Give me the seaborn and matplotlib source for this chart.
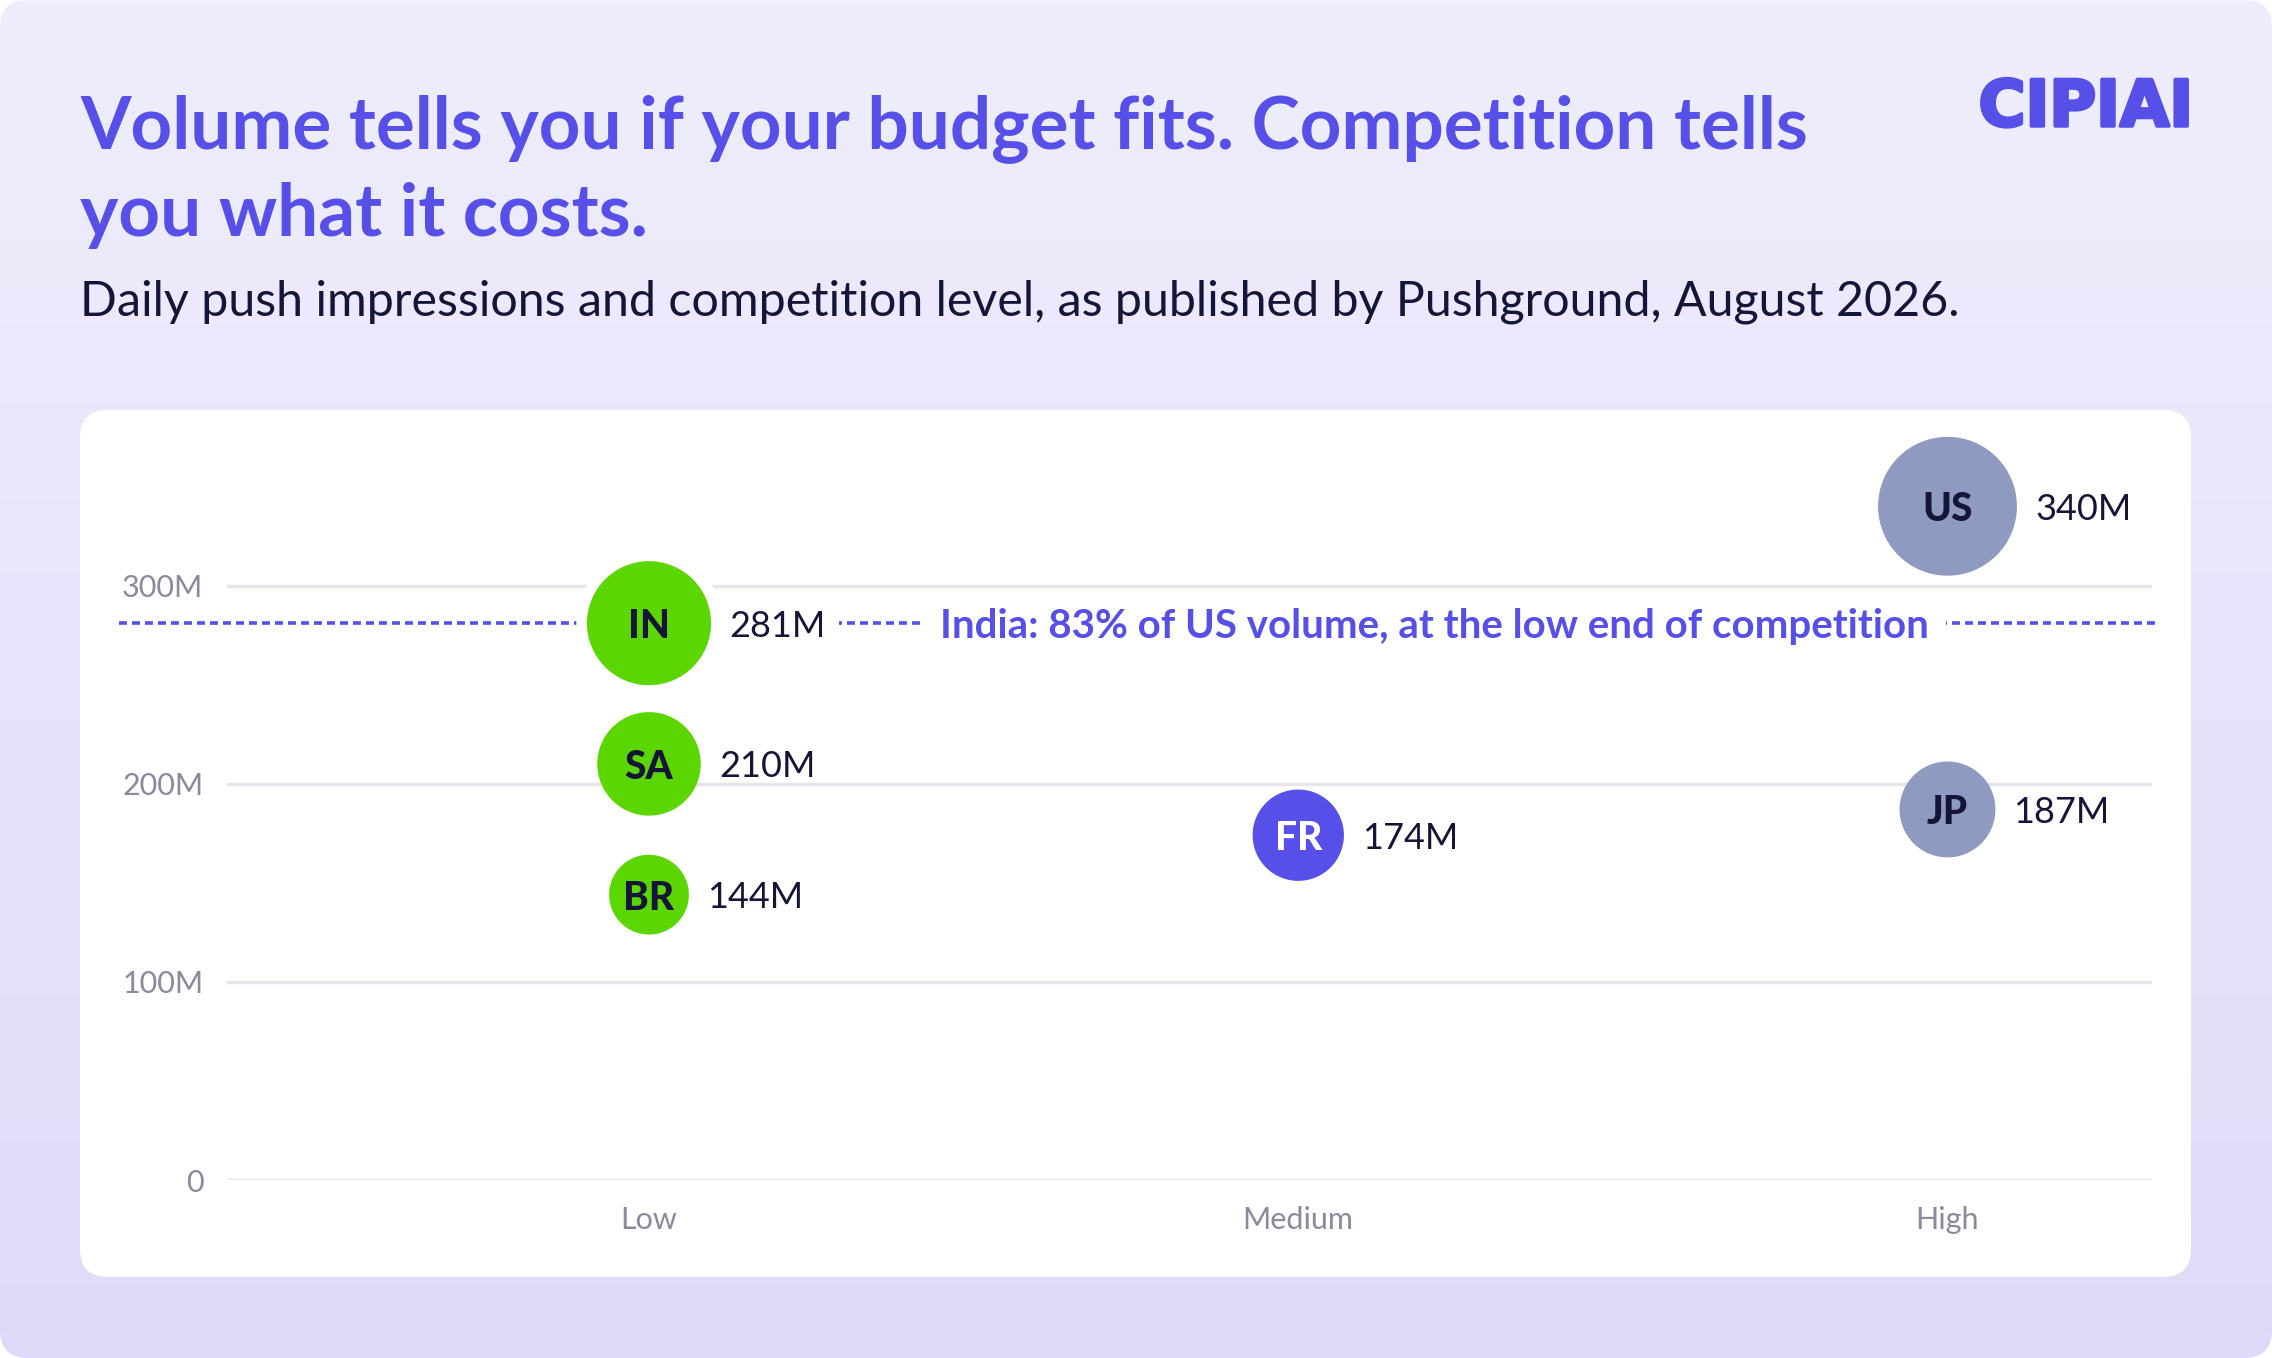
import numpy as np
import pandas as pd
import matplotlib
matplotlib.use("Agg")
import matplotlib.pyplot as plt
import matplotlib.patheffects as pe
from matplotlib.patches import FancyBboxPatch
from matplotlib.ticker import FuncFormatter
import seaborn as sns

# data
countries = ["US", "IN", "SA", "BR", "FR", "JP"]
competition = ["High", "Low", "Low", "Low", "Medium", "High"]
volume_m = [340, 281, 210, 144, 174, 187]
levels = ["Low", "Medium", "High"]
y_ticks = [0, 100, 200, 300]
highlight = "IN"
reference = "US"

title_1 = "Volume tells you if your budget fits. Competition tells"
title_2 = "you what it costs."
subtitle = "Daily push impressions and competition level, as published by Pushground, August 2026."
note = "India: 83% of US volume, at the low end of competition"

INDIGO = "#5650E8"
NAVY = "#15153A"
GREY = "#8A8A9E"
level_colors = {"Low": "#5CD600", "Medium": "#5650E8", "High": "#8F9AC1"}
text_colors = {"Low": NAVY, "Medium": "white", "High": NAVY}

W, H = 2272, 1358

sns.set_theme(style="white")
plt.rcParams["font.family"] = ["Lato", "DejaVu Sans"]

df = pd.DataFrame({
    "country": countries,
    "competition": pd.Categorical(competition, categories=levels, ordered=True),
    "volume": volume_m,
})

fig = plt.figure(figsize=(W / 100, H / 100), dpi=100)
fig.patch.set_facecolor("white")

# background with vertical gradient, pixel coordinates
bg = fig.add_axes([0, 0, 1, 1], zorder=0)
bg.set_xlim(0, W)
bg.set_ylim(0, H)
bg.axis("off")
grad = np.linspace(0, 1, 256).reshape(-1, 1)
top_c = np.array([0xEF, 0xEE, 0xFC]) / 255
bot_c = np.array([0xDE, 0xDB, 0xFA]) / 255
img = (top_c * (1 - grad[:, :, None]) + bot_c * grad[:, :, None])
im = bg.imshow(img, extent=(0, W, 0, H), aspect="auto", origin="upper", zorder=0)
frame = FancyBboxPatch((0, 0), W, H, boxstyle="round,pad=0,rounding_size=28",
                       transform=bg.transData, facecolor="none", edgecolor="none")
bg.add_patch(frame)
im.set_clip_path(frame)

card = FancyBboxPatch((80, 81), 2111, 867, boxstyle="round,pad=0,rounding_size=28",
                      facecolor="white", edgecolor="none", zorder=1)
bg.add_patch(card)

bg.text(80, H - 148, title_1, fontsize=52.4, fontweight="bold", color=INDIGO, va="baseline", zorder=2)
bg.text(80, H - 236, title_2, fontsize=52.4, fontweight="bold", color=INDIGO, va="baseline", zorder=2)
bg.text(80, H - 316, subtitle, fontsize=34.8, color=NAVY, va="baseline", zorder=2)
bg.text(2193, H - 108, "CIPIAI", fontsize=46, fontweight="bold", family="DejaVu Sans",
        color=INDIGO, ha="right", va="center", zorder=2,
        path_effects=[pe.withStroke(linewidth=2.5, foreground=INDIGO)])

# main chart
ax = fig.add_axes([227 / W, 178 / H, 1925 / W, 753 / H], zorder=2)
ax.set_facecolor("none")

sns.scatterplot(data=df, x="competition", y="volume", hue="competition",
                palette=level_colors, size="volume", sizes=(3300, 10000),
                linewidth=0, legend=False, ax=ax, zorder=4)
pts = ax.collections[-1]
pts.set_clip_on(False)
sizes = pts.get_sizes()

ax.set_xlim(-0.65, 2.315)
ax.set_ylim(0, 380)
ax.set_yticks(y_ticks)
ax.yaxis.set_major_formatter(FuncFormatter(lambda v, _: "0" if v == 0 else f"{int(v)}M"))
ax.grid(axis="y", color="#E6E6EA", lw=2.5)
ax.grid(axis="x", visible=False)
ax.set_axisbelow(True)
for s in ax.spines.values():
    s.set_visible(False)
ax.tick_params(axis="both", length=0, labelsize=22, labelcolor=GREY)
ax.tick_params(axis="y", pad=17)
ax.tick_params(axis="x", pad=19)
ax.set_xlabel("")
ax.set_ylabel("")

xpos = {lvl: i for i, lvl in enumerate(levels)}
hl = df[df.country == highlight].iloc[0]
ref = df[df.country == reference].iloc[0]

# dashed reference line at India's volume
ax.hlines(hl.volume, -0.817, 2.32, colors=INDIGO, lw=2.6,
          linestyles=(0, (2.2, 1.4)), clip_on=False, zorder=2)
hl_size = sizes[df.index[df.country == highlight][0]]
ax.scatter([xpos[hl.competition]], [hl.volume], s=(np.sqrt(hl_size) + 16) ** 2,
           color="white", linewidth=0, zorder=3, clip_on=False)

for i, row in df.iterrows():
    x = xpos[row.competition]
    r = np.sqrt(sizes[i]) / 2
    ax.text(x, row.volume, row.country, ha="center", va="center_baseline",
            fontsize=28, fontweight="black", color=text_colors[row.competition], zorder=5)
    box = dict(facecolor="white", edgecolor="none", pad=10) if row.country == highlight else None
    ax.annotate(f"{row.volume}M", (x, row.volume), xytext=(r + 13, 0),
                textcoords="offset points", ha="left", va="center_baseline",
                fontsize=26, color=NAVY, bbox=box, zorder=5)

pct = round(100 * hl.volume / ref.volume)
ax.text(1.21, hl.volume, note.replace("83%", f"{pct}%"), ha="center", va="center_baseline",
        fontsize=29, fontweight="bold", color=INDIGO, zorder=5,
        bbox=dict(facecolor="white", edgecolor="none", pad=12))

fig.savefig("out.png", dpi=100)
